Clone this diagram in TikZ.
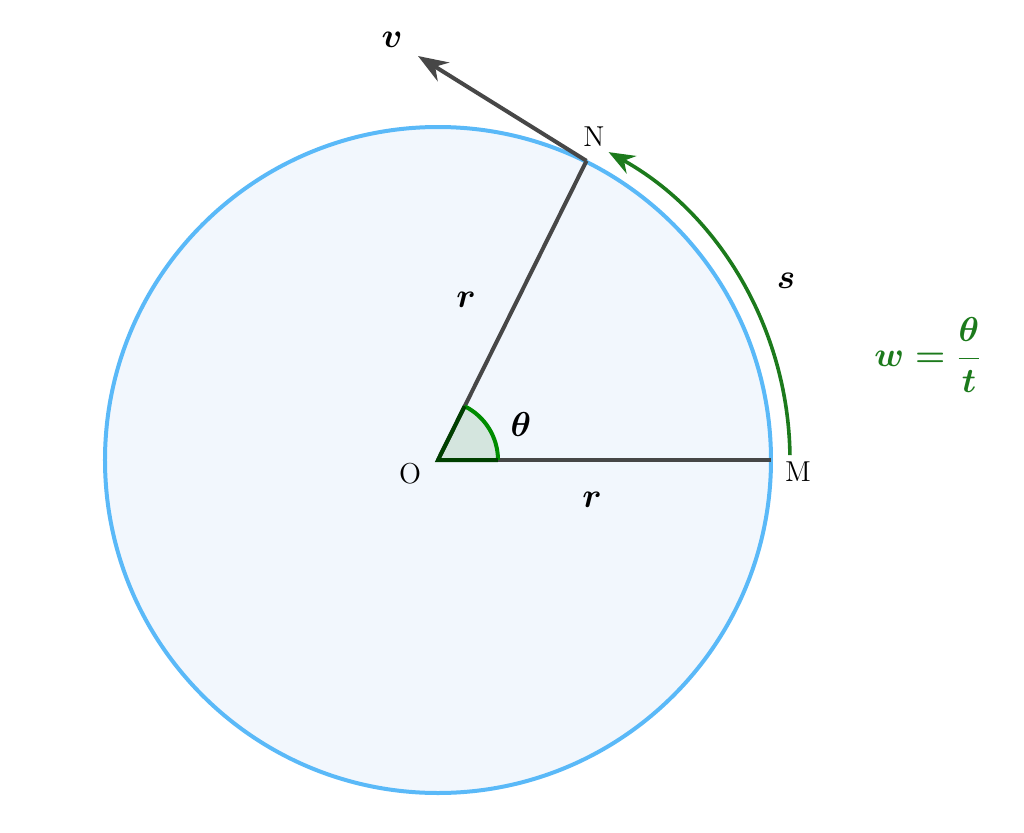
\documentclass[tikz,border=0pt]{standalone}
\usepackage{amsmath,amssymb}
\usetikzlibrary{arrows.meta,calc}
\definecolor{rimblue}{HTML}{5AB9F8}
\definecolor{discblue}{HTML}{F2F7FD}
\definecolor{seggray}{HTML}{474747}
\definecolor{arcgreen}{HTML}{1C7A1C}
\tikzset{
  seg/.style={seggray,line width=2pt},
  lbl/.style={inner sep=0pt,font=\Large},
  mlbl/.style={inner sep=0pt,font=\LARGE}
}
\begin{document}
\begin{tikzpicture}[x=0.5pt,y=0.5pt]
\useasboundingbox (-438,-372) rectangle (586,460);
\coordinate (O) at (0,0);
\coordinate (M) at (0:333);
\coordinate (N) at (63.6:334);
\coordinate (V) at (-20,404);
\coordinate (S0) at (0.8:352);
\coordinate (W0) at (0:60);

\draw[rimblue,fill=discblue,line width=2pt] (O) circle[radius=333];

\fill[green!40!black,opacity=0.12] (O) -- (W0) arc[start angle=0,end angle=63.6,radius=60] -- cycle;
\draw[seg] (O) -- (M);
\draw[seg] (O) -- (N);
\draw[seg,-{Stealth[length=15pt,width=11pt]}] (N) -- (V);
\draw[green!55!black,line width=2pt] (W0) arc[start angle=0,end angle=63.6,radius=60];
\draw[black!75!green,line width=2pt] (W0) -- (O) -- (63.6:60);

\draw[arcgreen,line width=1.8pt,-{Stealth[length=13pt,width=10pt]}] (S0) arc[start angle=0.8,end angle=61,radius=352];

\node[lbl] (Ol) at (-28,-14) {O};
\node[lbl] (Ml) at (360,-12) {M};
\node[lbl] (Nl) at (156,323) {N};
\node[mlbl] (vl) at (-46,420) {$\boldsymbol{v}$};
\node[mlbl] (r1) at (28,160) {$\boldsymbol{r}$};
\node[mlbl] (r2) at (154,-40) {$\boldsymbol{r}$};
\node[mlbl] (th) at (83,36) {$\boldsymbol{\theta}$};
\node[mlbl] (sl) at (348,179) {$\boldsymbol{s}$};
\node[mlbl,text=arcgreen] (wl) at (490,105) {$\displaystyle\boldsymbol{w=\frac{\theta}{t}}$};

\end{tikzpicture}
\end{document}
